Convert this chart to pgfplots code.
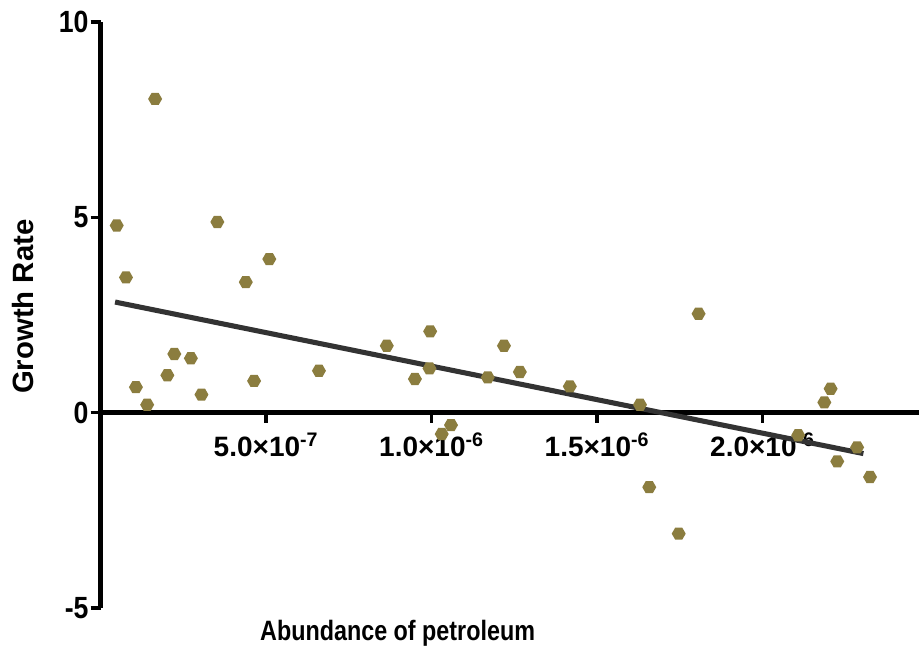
\documentclass[border=0pt]{standalone}
\usepackage{fontspec}
\setmainfont{Liberation Sans}
\usepackage{pgfplots}
\pgfplotsset{compat=1.18}

\definecolor{dotcol}{HTML}{8B7D3F}
\definecolor{fitcol}{HTML}{333333}

% flat-topped hexagon marker
\pgfdeclareplotmark{hexa}{%
  \pgfpathmoveto{\pgfpointpolar{0}{\pgfplotmarksize}}%
  \pgfpathlineto{\pgfpointpolar{60}{\pgfplotmarksize}}%
  \pgfpathlineto{\pgfpointpolar{120}{\pgfplotmarksize}}%
  \pgfpathlineto{\pgfpointpolar{180}{\pgfplotmarksize}}%
  \pgfpathlineto{\pgfpointpolar{240}{\pgfplotmarksize}}%
  \pgfpathlineto{\pgfpointpolar{300}{\pgfplotmarksize}}%
  \pgfpathclose\pgfusepathqfill}

\begin{document}
\begin{tikzpicture}
\begin{axis}[
    scale only axis,
    width=614pt, height=439.5pt,
    xmin=0, xmax=2.473e-6,
    ymin=-5, ymax=10,
    axis lines=middle,
    axis line style={-, line width=3.3pt},
    hide obscured x ticks=false,
    hide obscured y ticks=false,
    tick align=outside,
    major tick length=7.5pt,
    tick style={line width=2.6pt, black},
    xtick={5e-7,1e-6,1.5e-6,2e-6},
    xticklabels={5.0×10\textsuperscript{-7},1.0×10\textsuperscript{-6},1.5×10\textsuperscript{-6},2.0×10\textsuperscript{-6}},
    scaled x ticks=false,
    ytick={-5,0,5,10},
    yticklabels={-5,0,5,10},
    xticklabel style={font=\fontsize{21}{23}\selectfont\bfseries, yshift=-4.5pt},
    yticklabel style={font=\fontsize{20}{22}\selectfont\bfseries, yscale=1.15, xshift=2pt},
    xlabel={Abundance of petroleum},
    ylabel={Growth Rate},
    xlabel style={at={(axis description cs:0.363,-0.0427)}, anchor=center,
        font=\fontsize{17.5}{20}\selectfont\bfseries, yscale=1.2},
    ylabel style={at={(axis description cs:-0.0947,0.514)}, anchor=center, rotate=90,
        font=\fontsize{22}{24}\selectfont\bfseries},
    clip=false,
]
\addplot[only marks, mark=hexa, mark size=5.25pt, color=dotcol] coordinates {
    (0.165e-6,8.03) (0.049e-6,4.79) (0.353e-6,4.88) (0.510e-6,3.93)
    (0.077e-6,3.46) (0.439e-6,3.34) (0.223e-6,1.50) (0.273e-6,1.39)
    (0.202e-6,0.955) (0.107e-6,0.65) (0.305e-6,0.46) (0.141e-6,0.20)
    (0.464e-6,0.81) (0.660e-6,1.07) (0.865e-6,1.71) (0.996e-6,2.08)
    (0.950e-6,0.86) (0.994e-6,1.13) (1.219e-6,1.71) (1.267e-6,1.04)
    (1.170e-6,0.90) (1.418e-6,0.67) (1.059e-6,-0.32) (1.031e-6,-0.55)
    (1.807e-6,2.53) (1.630e-6,0.20) (1.658e-6,-1.91) (1.747e-6,-3.10)
    (2.206e-6,0.61) (2.187e-6,0.26) (2.108e-6,-0.58) (2.286e-6,-0.89)
    (2.226e-6,-1.25) (2.325e-6,-1.65)
};
\addplot[fitcol, line width=3.8pt, no markers] coordinates {
    (0.044e-6,2.83) (2.305e-6,-1.05)
};
\coordinate (ll) at (rel axis cs:0,0);
\coordinate (ur) at (rel axis cs:1,1);
\end{axis}
\pgfresetboundingbox
\path[use as bounding box] ([shift={(-75.4pt,-31.5pt)}]ll) rectangle ([shift={(0pt,16.5pt)}]ur);
\end{tikzpicture}
\end{document}
